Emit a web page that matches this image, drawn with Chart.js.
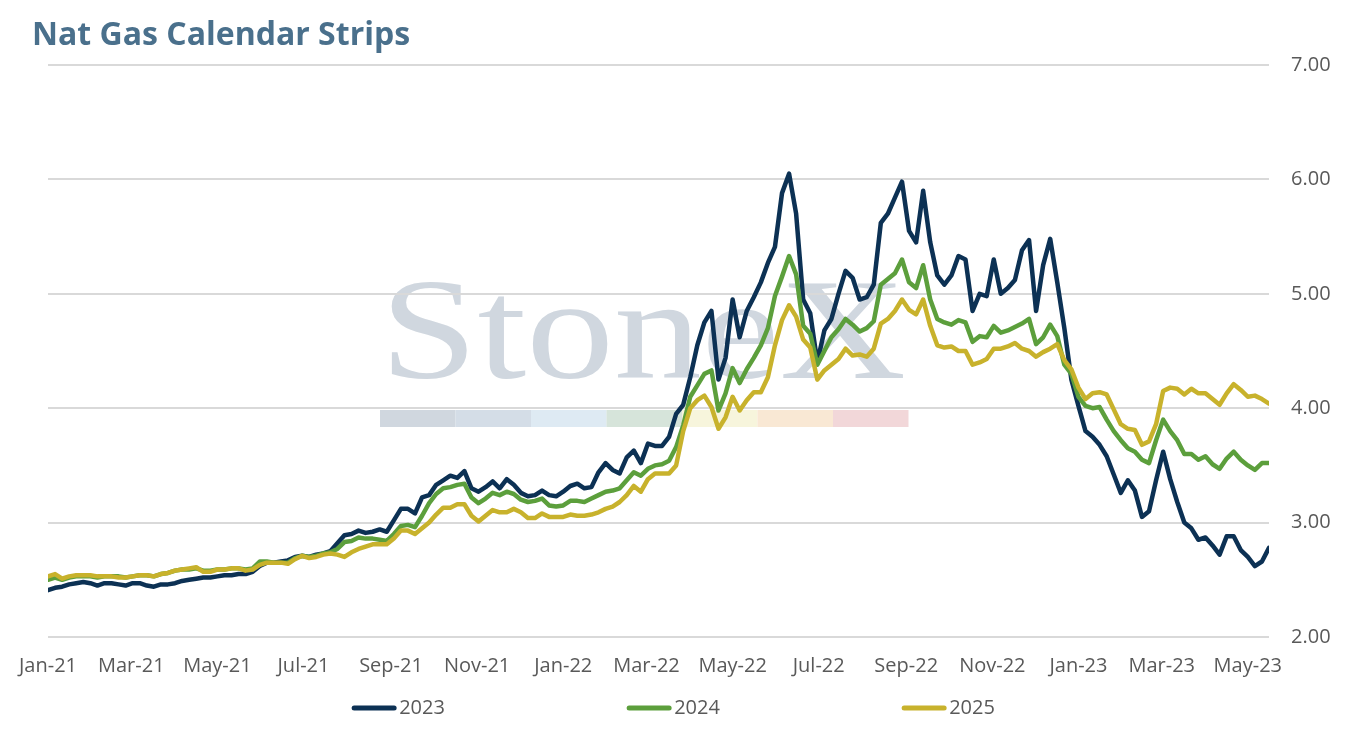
<!DOCTYPE html>
<html>
<head>
<meta charset="utf-8">
<title>Nat Gas Calendar Strips</title>
<script src="https://cdn.jsdelivr.net/npm/chart.js@4.4.0/dist/chart.umd.min.js"></script>
<style>
  html, body { margin: 0; padding: 0; background: #fff; }
  #wrap { position: relative; width: 1347px; height: 730px; }
</style>
</head>
<body>
<div id="wrap"><canvas id="gasChart"></canvas></div>
<script>
// Calendar strip settlement, sampled every 5 days from Jan 1 2021
var firstDate = '2021-01-01';
var stepDays = 5;

var seriesNames = ['2023', '2024', '2025'];
var seriesColors = ['#0c3154', '#5c9f3c', '#c8b22c'];

var tickDates = ['2021-01-01', '2021-03-01', '2021-05-01', '2021-07-01', '2021-09-01', '2021-11-01',
    '2022-01-01', '2022-03-01', '2022-05-01', '2022-07-01', '2022-09-01', '2022-11-01',
    '2023-01-01', '2023-03-01', '2023-05-01'];
var tickLabels = ['Jan-21', 'Mar-21', 'May-21', 'Jul-21', 'Sep-21', 'Nov-21',
    'Jan-22', 'Mar-22', 'May-22', 'Jul-22', 'Sep-22', 'Nov-22',
    'Jan-23', 'Mar-23', 'May-23'];
var endDate = '2023-05-16';

var strip2023 = [
    2.41, 2.43, 2.44, 2.46, 2.47, 2.48, 2.47, 2.45, 2.47, 2.47,
    2.46, 2.45, 2.47, 2.47, 2.45, 2.44, 2.46, 2.46, 2.47, 2.49,
    2.50, 2.51, 2.52, 2.52, 2.53, 2.54, 2.54, 2.55, 2.55, 2.57,
    2.62, 2.65, 2.65, 2.66, 2.67, 2.70, 2.71, 2.70, 2.72, 2.73,
    2.75, 2.82, 2.89, 2.90, 2.93, 2.91, 2.92, 2.94, 2.92, 3.02,
    3.12, 3.12, 3.08, 3.22, 3.24, 3.33, 3.37, 3.41, 3.39, 3.45,
    3.30, 3.27, 3.31, 3.36, 3.30, 3.38, 3.33, 3.26, 3.23, 3.24,
    3.28, 3.24, 3.23, 3.27, 3.32, 3.34, 3.30, 3.31, 3.44, 3.52,
    3.46, 3.43, 3.57, 3.63, 3.52, 3.69, 3.67, 3.67, 3.75, 3.95,
    4.03, 4.27, 4.55, 4.75, 4.85, 4.25, 4.44, 4.95, 4.62, 4.85,
    4.97, 5.10, 5.27, 5.41, 5.88, 6.05, 5.70, 4.95, 4.83, 4.40,
    4.68, 4.78, 5.00, 5.20, 5.14, 4.95, 4.97, 5.08, 5.62, 5.70,
    5.84, 5.98, 5.55, 5.45, 5.90, 5.45, 5.16, 5.08, 5.16, 5.33,
    5.30, 4.85, 5.00, 4.98, 5.30, 5.00, 5.05, 5.12, 5.38, 5.47,
    4.85, 5.25, 5.48, 5.10, 4.70, 4.25, 4.02, 3.80, 3.75, 3.68,
    3.58, 3.42, 3.26, 3.37, 3.28, 3.05, 3.10, 3.37, 3.62, 3.38,
    3.18, 3.00, 2.95, 2.85, 2.87, 2.80, 2.72, 2.88, 2.88, 2.76,
    2.70, 2.62, 2.66, 2.78
];
var strip2024 = [
    2.50, 2.52, 2.50, 2.52, 2.53, 2.53, 2.53, 2.52, 2.53, 2.53,
    2.53, 2.52, 2.53, 2.54, 2.54, 2.53, 2.55, 2.56, 2.58, 2.59,
    2.59, 2.60, 2.58, 2.58, 2.59, 2.59, 2.60, 2.60, 2.59, 2.60,
    2.66, 2.66, 2.65, 2.65, 2.65, 2.69, 2.71, 2.70, 2.71, 2.73,
    2.74, 2.77, 2.83, 2.84, 2.87, 2.86, 2.86, 2.85, 2.84, 2.90,
    2.97, 2.98, 2.96, 3.06, 3.17, 3.25, 3.30, 3.31, 3.33, 3.34,
    3.22, 3.17, 3.21, 3.26, 3.24, 3.27, 3.25, 3.20, 3.18, 3.19,
    3.21, 3.15, 3.14, 3.15, 3.19, 3.19, 3.18, 3.21, 3.24, 3.27,
    3.28, 3.30, 3.37, 3.44, 3.41, 3.47, 3.50, 3.51, 3.54, 3.66,
    3.85, 4.10, 4.20, 4.30, 4.33, 3.98, 4.13, 4.35, 4.22, 4.34,
    4.44, 4.55, 4.70, 4.98, 5.15, 5.33, 5.17, 4.72, 4.65, 4.38,
    4.50, 4.62, 4.69, 4.78, 4.73, 4.67, 4.70, 4.76, 5.08, 5.13,
    5.18, 5.30, 5.10, 5.05, 5.25, 4.95, 4.78, 4.75, 4.73, 4.77,
    4.75, 4.58, 4.63, 4.62, 4.72, 4.66, 4.68, 4.71, 4.74, 4.78,
    4.56, 4.62, 4.73, 4.63, 4.38, 4.30, 4.10, 4.02, 4.00, 4.01,
    3.90, 3.80, 3.72, 3.65, 3.62, 3.55, 3.52, 3.72, 3.90, 3.80,
    3.72, 3.60, 3.60, 3.55, 3.58, 3.51, 3.47, 3.56, 3.62, 3.55,
    3.50, 3.46, 3.52, 3.52
];
var strip2025 = [
    2.53, 2.55, 2.51, 2.53, 2.54, 2.54, 2.54, 2.53, 2.53, 2.53,
    2.52, 2.52, 2.53, 2.54, 2.54, 2.53, 2.55, 2.56, 2.58, 2.59,
    2.60, 2.61, 2.57, 2.57, 2.59, 2.59, 2.60, 2.60, 2.58, 2.59,
    2.63, 2.65, 2.65, 2.65, 2.64, 2.68, 2.71, 2.69, 2.70, 2.72,
    2.73, 2.72, 2.70, 2.74, 2.77, 2.79, 2.81, 2.81, 2.81, 2.86,
    2.93, 2.93, 2.90, 2.95, 3.00, 3.07, 3.13, 3.13, 3.16, 3.16,
    3.06, 3.01, 3.06, 3.11, 3.09, 3.09, 3.12, 3.09, 3.04, 3.04,
    3.08, 3.05, 3.05, 3.05, 3.07, 3.06, 3.06, 3.07, 3.09, 3.12,
    3.14, 3.18, 3.24, 3.32, 3.27, 3.38, 3.43, 3.43, 3.43, 3.50,
    3.80, 4.00, 4.07, 4.11, 4.01, 3.82, 3.92, 4.10, 3.98, 4.07,
    4.14, 4.14, 4.27, 4.55, 4.77, 4.90, 4.80, 4.60, 4.53, 4.25,
    4.33, 4.38, 4.43, 4.52, 4.46, 4.47, 4.45, 4.52, 4.74, 4.78,
    4.85, 4.95, 4.86, 4.82, 4.95, 4.72, 4.55, 4.53, 4.54, 4.50,
    4.50, 4.38, 4.40, 4.43, 4.52, 4.52, 4.54, 4.57, 4.52, 4.50,
    4.45, 4.49, 4.52, 4.56, 4.42, 4.34, 4.18, 4.08, 4.13, 4.14,
    4.12, 3.99, 3.86, 3.82, 3.81, 3.68, 3.71, 3.86, 4.15, 4.18,
    4.17, 4.12, 4.17, 4.13, 4.13, 4.08, 4.03, 4.13, 4.21, 4.16,
    4.10, 4.11, 4.08, 4.04
];

function dayOf(d) {
    return Math.round((Date.parse(d) - Date.parse(firstDate)) / 86400000);
}

var tickDays = tickDates.map(dayOf);
var allStrips = [strip2023, strip2024, strip2025];

var datasets = allStrips.map(function (vals, k) {
    return {
        label: seriesNames[k],
        data: vals.map(function (v, i) { return { x: i * stepDays, y: v }; }),
        borderColor: seriesColors[k],
        backgroundColor: seriesColors[k],
        borderWidth: 4.5,
        borderJoinStyle: 'round',
        borderCapStyle: 'round',
        pointRadius: 0,
        tension: 0,
        order: 3 - k
    };
});

var TXT = '#595959';

// title, StoneX watermark and the bottom legend
var decor = {
    id: 'decor',
    beforeDraw: function (chart) {
        var ctx = chart.ctx;
        ctx.save();
        // watermark word
        ctx.font = '145px "Liberation Serif"';
        var w = ctx.measureText('StoneX').width;
        ctx.translate(380, 378);
        ctx.scale(526 / w, 1);
        ctx.fillStyle = '#d0d7df';
        ctx.textBaseline = 'alphabetic';
        ctx.fillText('StoneX', 0, 0);
        ctx.restore();
        // colour strip under it
        var cols = ['#d0d7df', '#d4dde7', '#deeaf3', '#d6e4da', '#f7f5dc', '#f9e8d4', '#f2d7d9'];
        for (var i = 0; i < cols.length; i++) {
            ctx.fillStyle = cols[i];
            ctx.fillRect(380 + i * 75.5, 410, 75.5, 17);
        }
    },
    afterDraw: function (chart) {
        var ctx = chart.ctx;
        ctx.save();
        ctx.fillStyle = '#4a708c';
        ctx.font = 'bold 32px "Open Sans"';
        ctx.textBaseline = 'middle';
        ctx.textAlign = 'left';
        ctx.fillText('Nat Gas Calendar Strips', 32, 36);

        ctx.font = '20px "Open Sans"';
        var gap = 275, lineLen = 44;
        var itemW = lineLen + 3 + ctx.measureText('2023').width;
        var x0 = chart.width / 2 - (gap * 2 + itemW) / 2;
        var y = 708;
        for (var k = 0; k < seriesNames.length; k++) {
            var lx = x0 + k * gap;
            ctx.strokeStyle = seriesColors[k];
            ctx.lineWidth = 5;
            ctx.lineCap = 'round';
            ctx.beginPath();
            ctx.moveTo(lx + 2, y);
            ctx.lineTo(lx + lineLen - 2, y);
            ctx.stroke();
            ctx.fillStyle = TXT;
            ctx.fillText(seriesNames[k], lx + lineLen + 3, y);
        }
        ctx.restore();
    }
};

new Chart(document.getElementById('gasChart'), {
    type: 'line',
    data: { datasets: datasets },
    options: {
        responsive: true,
        maintainAspectRatio: false,
        animation: false,
        layout: { autoPadding: false, padding: { left: 48, right: 0, top: 65, bottom: 44 } },
        plugins: {
            legend: { display: false },
            title: { display: false },
            tooltip: { enabled: false }
        },
        scales: {
            x: {
                type: 'linear',
                min: 0,
                max: dayOf(endDate),
                afterBuildTicks: function (scale) {
                    scale.ticks = tickDays.map(function (d) { return { value: d }; });
                },
                afterFit: function (scale) { scale.height = 49; },
                ticks: {
                    autoSkip: false,
                    maxRotation: 0,
                    padding: 9,
                    color: TXT,
                    font: { family: 'Open Sans', size: 20 },
                    callback: function (v, i) { return tickLabels[i]; }
                },
                grid: { display: false },
                border: { display: false }
            },
            y: {
                position: 'right',
                min: 2,
                max: 7,
                afterFit: function (scale) { scale.width = 78; },
                ticks: {
                    stepSize: 1,
                    padding: 22,
                    color: TXT,
                    font: { family: 'Open Sans', size: 20 },
                    callback: function (v) { return v.toFixed(2); }
                },
                grid: { color: '#d9d9d9', lineWidth: 2, drawTicks: false },
                border: { display: false }
            }
        }
    },
    plugins: [decor]
});
</script>
</body>
</html>
